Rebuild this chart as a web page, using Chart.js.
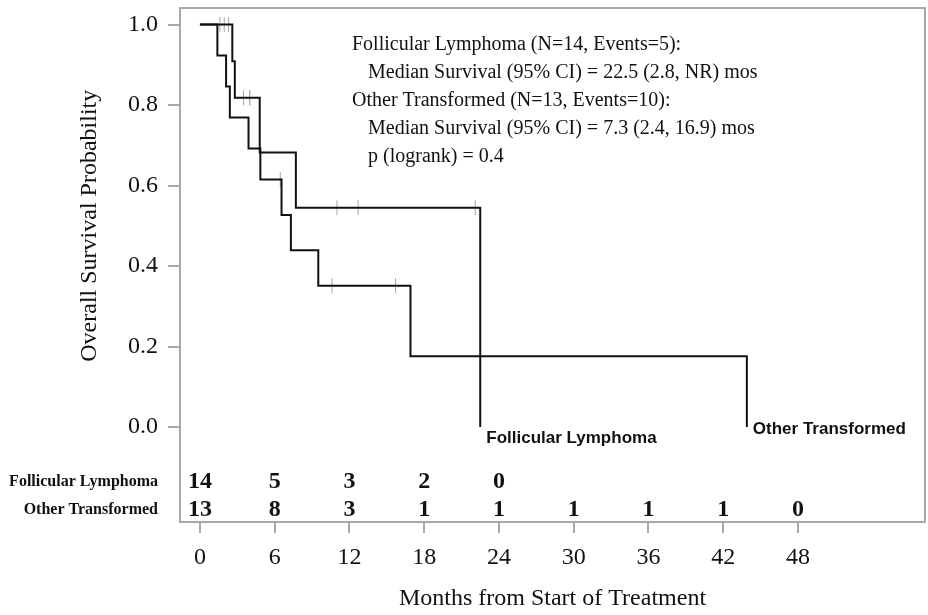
<!DOCTYPE html>
<html>
<head>
<meta charset="utf-8">
<script src="https://cdn.jsdelivr.net/npm/chart.js@4/dist/chart.umd.min.js"></script>
<style>
  body { margin: 0; background: #fff; }
  #wrap { width: 928px; height: 615px; }
</style>
</head>
<body>
<div id="wrap"><canvas id="km" width="928" height="615"></canvas></div>
<script>
// Kaplan-Meier: step times (months) and survival after each step
var flTimes = [0, 2.6, 2.8, 4.8, 7.7, 22.5];
var flSurv  = [1, 0.909, 0.818, 0.682, 0.545, 0];
var flCensor = [1.6, 1.95, 2.3, 3.5, 4.0, 4.0, 11.0, 12.7, 22.1];

var otTimes = [0, 1.4, 2.1, 2.4, 3.9, 4.85, 6.55, 7.3, 9.5, 16.9, 43.9];
var otSurv  = [1, 0.923, 0.846, 0.769, 0.692, 0.615, 0.527, 0.439, 0.351, 0.176, 0];
var otCensor = [6.45, 10.6, 15.7];

// numbers at risk
var riskMonths = [0, 6, 12, 18, 24, 30, 36, 42, 48];
var flAtRisk = [14, 5, 3, 2, 0];
var otAtRisk = [13, 8, 3, 1, 1, 1, 1, 1, 0];

var yTicks = [0, 0.2, 0.4, 0.6, 0.8, 1.0];

var statLines = [
  "Follicular Lymphoma (N=14, Events=5):",
  "  Median Survival (95% CI) = 22.5 (2.8, NR) mos",
  "Other Transformed (N=13, Events=10):",
  "  Median Survival (95% CI) = 7.3 (2.4, 16.9) mos",
  "  p (logrank) = 0.4"
];

var SERIF = "'Liberation Serif', 'Times New Roman', serif";
var SANS = "'Liberation Sans', Arial, sans-serif";
var GRAY = "#a8a8a8";

function stepPoints(times, surv) {
  var pts = [{x: times[0], y: surv[0]}];
  for (var i = 1; i < times.length; i++) {
    pts.push({x: times[i], y: surv[i - 1]});
    pts.push({x: times[i], y: surv[i]});
  }
  return pts;
}

function survAt(times, surv, t) {
  var s = surv[0];
  for (var i = 0; i < times.length; i++) if (times[i] <= t) s = surv[i];
  return s;
}

function censorPoints(cens, times, surv) {
  return cens.map(function (t) { return {x: t, y: survAt(times, surv, t)}; });
}

var extras = {
  id: "kmExtras",
  beforeDatasetsDraw: function (chart) {
    var a = chart.chartArea, c = chart.ctx;
    c.save();
    c.strokeStyle = GRAY;
    c.lineWidth = 2;
    c.strokeRect(a.left, a.top, a.right - a.left, a.bottom - a.top);
    c.restore();
  },
  afterDraw: function (chart) {
    var c = chart.ctx, xs = chart.scales.x, ys = chart.scales.y;
    c.save();
    c.fillStyle = "#111";
    c.textBaseline = "middle";

    // y axis title, centred on the 0..1 range
    c.save();
    c.translate(90, ys.getPixelForValue(0.5));
    c.rotate(-Math.PI / 2);
    c.textAlign = "center";
    c.font = "24px " + SERIF;
    c.fillText("Overall Survival Probability", 0, 0);
    c.restore();

    // stats block
    c.font = "20px " + SERIF;
    c.textAlign = "left";
    statLines.forEach(function (s, i) {
      var indent = s.indexOf("  ") === 0;
      c.fillText(s.trim(), indent ? 368 : 352, 45 + i * 28);
    });

    // curve end labels
    c.font = "bold 17px " + SANS;
    c.fillText("Follicular Lymphoma", xs.getPixelForValue(flTimes[flTimes.length - 1]) + 6, ys.getPixelForValue(0) + 11);
    c.fillText("Other Transformed", xs.getPixelForValue(otTimes[otTimes.length - 1]) + 6, ys.getPixelForValue(0) + 2);

    // at-risk table
    var row1 = 482, row2 = 510;
    c.font = "bold 16px " + SERIF;
    c.textAlign = "right";
    c.fillText("Follicular Lymphoma", 158, row1);
    c.fillText("Other Transformed", 158, row2);
    c.font = "bold 24px " + SERIF;
    c.textAlign = "center";
    flAtRisk.forEach(function (n, i) { c.fillText(String(n), xs.getPixelForValue(riskMonths[i]), row1); });
    otAtRisk.forEach(function (n, i) { c.fillText(String(n), xs.getPixelForValue(riskMonths[i]), row2); });
    c.restore();
  }
};

var ctx = document.getElementById("km").getContext("2d");
var chart = new Chart(ctx, {
  type: "line",
  data: {
    datasets: [
      {
        label: "Follicular Lymphoma",
        data: stepPoints(flTimes, flSurv),
        borderColor: "#111", borderWidth: 2, pointRadius: 0, tension: 0, order: 0
      },
      {
        label: "Other Transformed",
        data: stepPoints(otTimes, otSurv),
        borderColor: "#111", borderWidth: 2, pointRadius: 0, tension: 0, order: 0
      },
      {
        label: "FL censored",
        data: censorPoints(flCensor, flTimes, flSurv),
        showLine: false, pointStyle: "line", rotation: 90, pointRadius: 7.5,
        pointBorderColor: GRAY, pointBorderWidth: 1, order: 1
      },
      {
        label: "OT censored",
        data: censorPoints(otCensor, otTimes, otSurv),
        showLine: false, pointStyle: "line", rotation: 90, pointRadius: 7.5,
        pointBorderColor: GRAY, pointBorderWidth: 1, order: 1
      }
    ]
  },
  options: {
    responsive: false,
    animation: false,
    events: [],
    layout: { autoPadding: false, padding: { left: 0, top: 8, right: 3, bottom: 0 } },
    plugins: { legend: { display: false }, tooltip: { enabled: false } },
    scales: {
      x: {
        type: "linear",
        min: -1.6, max: 58.2,
        afterBuildTicks: function (s) { s.ticks = riskMonths.map(function (v) { return {value: v}; }); },
        afterFit: function (s) { s.height = 93; s.paddingLeft = 0; s.paddingRight = 0; },
        border: { display: false },
        grid: { drawOnChartArea: false, drawTicks: true, tickLength: 11, color: GRAY, lineWidth: 2 },
        ticks: { color: "#111", padding: 10, maxRotation: 0, font: { family: SERIF, size: 24 } },
        title: {
          display: true, text: "Months from Start of Treatment", color: "#111",
          font: { family: SERIF, size: 24 }, padding: { top: 0, bottom: 2 }
        }
      },
      y: {
        type: "linear",
        min: -0.236, max: 1.041,
        afterBuildTicks: function (s) { s.ticks = yTicks.map(function (v) { return {value: v}; }); },
        afterFit: function (s) { s.width = 180; s.paddingTop = 0; s.paddingBottom = 0; },
        border: { display: false },
        grid: { drawOnChartArea: false, drawTicks: true, tickLength: 12, color: GRAY, lineWidth: 2 },
        ticks: {
          color: "#111", padding: 10, font: { family: SERIF, size: 24 },
          callback: function (v) { return Number(v).toFixed(1); }
        }
      }
    }
  },
  plugins: [extras]
});
</script>
</body>
</html>
